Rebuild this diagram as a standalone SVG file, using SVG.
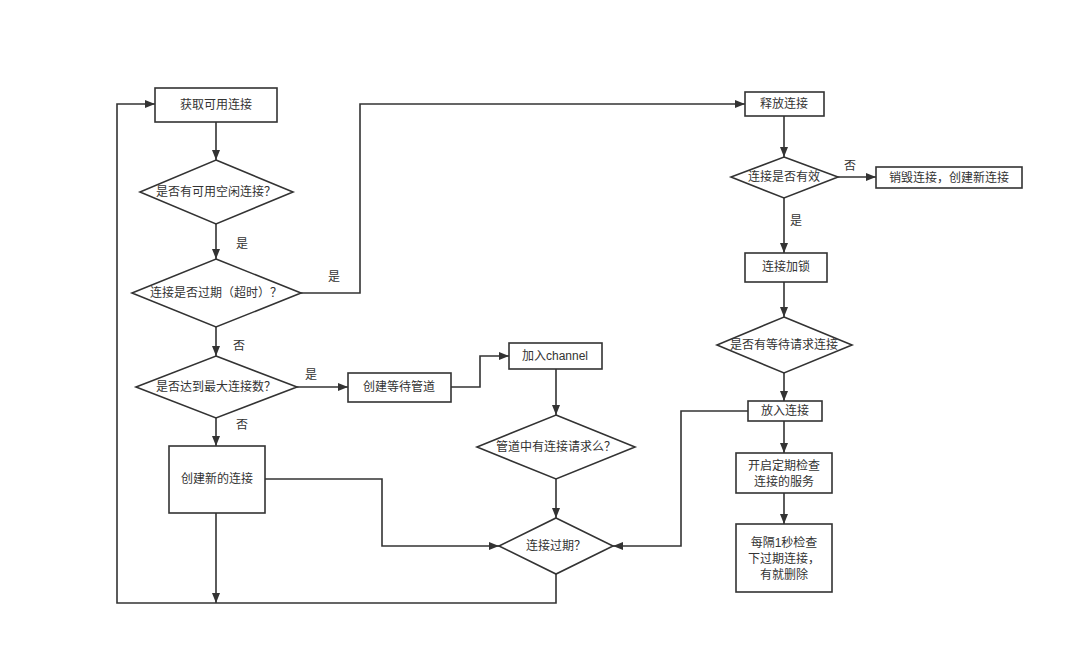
<svg xmlns="http://www.w3.org/2000/svg" width="1080" height="661" viewBox="0 0 1080 661">
<defs>
<marker id="ah" markerWidth="10" markerHeight="8" refX="10" refY="4" orient="auto" markerUnits="userSpaceOnUse">
<path d="M0,0 L10,4 L0,8 Z" fill="#333"/>
</marker>
<style>
.n{fill:#fff;stroke:#333;stroke-width:1.6}
.t{font-family:"Liberation Sans","Noto Sans CJK SC",sans-serif;font-size:12px;fill:#333;text-anchor:middle;dominant-baseline:central;text-spacing-trim:space-all}
.c{fill:none;stroke:#333;stroke-width:1.6;marker-end:url(#ah)}
.l{fill:none;stroke:#333;stroke-width:1.6}
</style>
</defs>
<rect width="1080" height="661" fill="#fff"/>
<g id="connectors">
<path class="c" d="M216,122 L216,160"/>
<path class="c" d="M216,224 L216,259"/>
<path class="c" d="M301,293 L360,293 L360,104 L745,104"/>
<path class="c" d="M216,327 L216,356"/>
<path class="c" d="M297,387 L348,387"/>
<path class="c" d="M216,418 L216,446"/>
<path class="c" d="M451,387 L480,387 L480,356 L509,356"/>
<path class="c" d="M556,369 L556,415"/>
<path class="c" d="M556,479 L556,518"/>
<path class="c" d="M265,479 L382,479 L382,546 L499,546"/>
<path class="c" d="M216,513 L216,603"/>
<path class="c" d="M556,574 L556,603 L117,603 L117,104 L155,104"/>
<path class="c" d="M748,411 L681,411 L681,546 L613,546"/>
<path class="c" d="M784,116 L784,157"/>
<path class="c" d="M838,177 L876,177"/>
<path class="c" d="M784,198 L784,253"/>
<path class="c" d="M784,282 L784,317"/>
<path class="c" d="M784,373 L784,401"/>
<path class="c" d="M784,421 L784,453"/>
<path class="c" d="M784,493 L784,524"/>
<text class="t" x="242" y="244">是</text>
<text class="t" x="334" y="277">是</text>
<text class="t" x="239" y="346">否</text>
<text class="t" x="311" y="375">是</text>
<text class="t" x="242" y="425">否</text>
<text class="t" x="850" y="166">否</text>
<text class="t" x="796" y="221">是</text>
</g>
<g id="n1"><rect class="n" x="155" y="88" width="122" height="34"/><text class="t" x="216" y="105">获取可用连接</text></g>
<g id="d1"><polygon class="n" points="216,160 293,192 216,224 140,192"/><text class="t" x="216" y="192">是否有可用空闲连接？</text></g>
<g id="d2"><polygon class="n" points="216,259 301,293 216,327 132,293"/><text class="t" x="216" y="293">连接是否过期（超时）？</text></g>
<g id="d3"><polygon class="n" points="216,356 297,387 216,418 136,387"/><text class="t" x="216" y="387">是否达到最大连接数？</text></g>
<g id="n2"><rect class="n" x="348" y="373" width="103" height="29"/><text class="t" x="399" y="387">创建等待管道</text></g>
<g id="n3"><rect class="n" x="169" y="446" width="96" height="67"/><text class="t" x="217" y="479">创建新的连接</text></g>
<g id="n4"><rect class="n" x="509" y="343" width="93" height="26"/><text class="t" x="555" y="356">加入channel</text></g>
<g id="d4"><polygon class="n" points="556,415 635,447 556,479 477,447"/><text class="t" x="556" y="447">管道中有连接请求么？</text></g>
<g id="d5"><polygon class="n" points="556,518 613,546 556,574 499,546"/><text class="t" x="556" y="546">连接过期？</text></g>
<g id="n5"><rect class="n" x="745" y="92" width="79" height="24"/><text class="t" x="784" y="104">释放连接</text></g>
<g id="d6"><polygon class="n" points="784,157 838,177 784,198 731,177"/><text class="t" x="784" y="177">连接是否有效</text></g>
<g id="n6"><rect class="n" x="876" y="167" width="146" height="21"/><text class="t" x="949" y="178">销毁连接，创建新连接</text></g>
<g id="n7"><rect class="n" x="745" y="253" width="82" height="29"/><text class="t" x="786" y="267">连接加锁</text></g>
<g id="d7"><polygon class="n" points="784,317 852,345 784,373 717,345"/><text class="t" x="784" y="345">是否有等待请求连接</text></g>
<g id="n8"><rect class="n" x="748" y="401" width="74" height="20"/><text class="t" x="785" y="411">放入连接</text></g>
<g id="n9"><rect class="n" x="736" y="453" width="96" height="40"/><text class="t" x="784" y="466">开启定期检查</text><text class="t" x="784" y="482">连接的服务</text></g>
<g id="n10"><rect class="n" x="736" y="524" width="96" height="68"/><text class="t" x="784" y="543">每隔1秒检查</text><text class="t" x="784" y="559">下过期连接，</text><text class="t" x="784" y="575">有就删除</text></g>
</svg>
